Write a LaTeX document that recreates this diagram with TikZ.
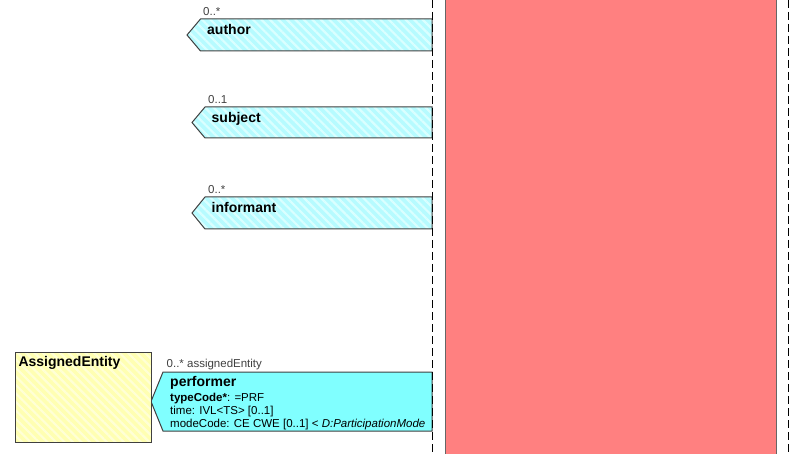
\documentclass[tikz,border=0pt]{standalone}
\usepackage{fontspec}
\setmainfont{Liberation Sans}
\usetikzlibrary{patterns.meta}
\definecolor{partred}{RGB}{255,128,128}
\definecolor{assoccyan}{RGB}{128,255,255}
\definecolor{hatchcyan}{RGB}{182,251,255}
\definecolor{hatchcyanlt}{RGB}{218,255,255}
\definecolor{entyellow}{RGB}{255,255,178}
\definecolor{entyellowlt}{RGB}{255,255,214}
\definecolor{edge}{RGB}{64,64,64}
\tikzset{
    choicebox/.style={draw=edge,line width=1pt,preaction={fill=hatchcyan},
        pattern={Lines[angle=-45,distance=6pt,line width=2.2pt]},pattern color=hatchcyanlt},
    assocbox/.style={draw=edge,line width=1pt,fill=assoccyan},
    entitybox/.style={draw=edge,line width=1pt,preaction={fill=entyellow},
        pattern={Lines[angle=-45,distance=6pt,line width=2.2pt]},pattern color=entyellowlt,
        inner sep=0pt,anchor=north west},
    rolename/.style={font=\bfseries\fontsize{14}{16}\selectfont,inner sep=0pt,anchor=base west},
    mult/.style={font=\fontsize{11.5}{13}\selectfont,text=edge,inner sep=0pt,anchor=base west},
    attr/.style={font=\fontsize{11.5}{13}\selectfont,inner sep=0pt,anchor=base west},
    lifeline/.style={line width=1pt,dash pattern=on 8pt off 4pt}
}
\begin{document}
\begin{tikzpicture}[x=1pt,y=-1pt]
    \useasboundingbox (0,0) rectangle (800,454);

    % participation area
    \draw[fill=partred,draw=edge!80,line width=0.8pt] (445,-2) rectangle (776,456);
    \coordinate (lineAtop) at (432.5,0);
    \coordinate (lineAbot) at (432.5,454);
    \coordinate (lineBtop) at (788,0);
    \coordinate (lineBbot) at (788,454);

    % choice boxes
    \foreach \nm/\tp/\bt/\tip/\lft in {author/19/51/187/200.5,subject/107/138/192/205,informant/197/229/192/205} {
        \draw[choicebox] (432,\tp) -- (\lft,\tp) -- (\tip,{(\tp+\bt)/2}) -- (\lft,\bt) -- (432,\bt) -- cycle;
    }
    \node[mult] (authormult) at (203,16) {0..*};
    \node[rolename] (authorname) at (207,35) {author};
    \node[mult] (subjectmult) at (208,103.3) {0..1};
    \node[rolename] (subjectname) at (211.5,122.5) {subject};
    \node[mult] (informantmult) at (208,194) {0..*};
    \node[rolename] (informantname) at (211.5,212.7) {informant};

    % performer
    \draw[assocbox] (432,372) -- (163,372) -- (151,401.5) -- (163,431) -- (432,431) -- cycle;
    \node[mult] (perfmult) at (166.5,367.7) {0..* assignedEntity};
    \node[rolename] (perfname) at (170,386.7) {performer};
    \node[attr] (perftype) at (170,401) {\textbf{typeCode*}: =PRF};
    \node[attr] (perftime) at (170,414.3) {time: IVL<TS> [0..1]};
    \node[attr] (perfmode) at (170,427.7) {modeCode: CE CWE [0..1] < \textit{D:ParticipationMode}};

    % assigned entity
    \node[entitybox,minimum width=136pt,minimum height=90pt] (AE) at (15,352) {};
    \node[rolename] (AEname) at (18.3,366) {AssignedEntity};

    \draw[lifeline] (lineAtop) -- (lineAbot);
    \draw[lifeline] (lineBtop) -- (lineBbot);
\end{tikzpicture}
\end{document}
